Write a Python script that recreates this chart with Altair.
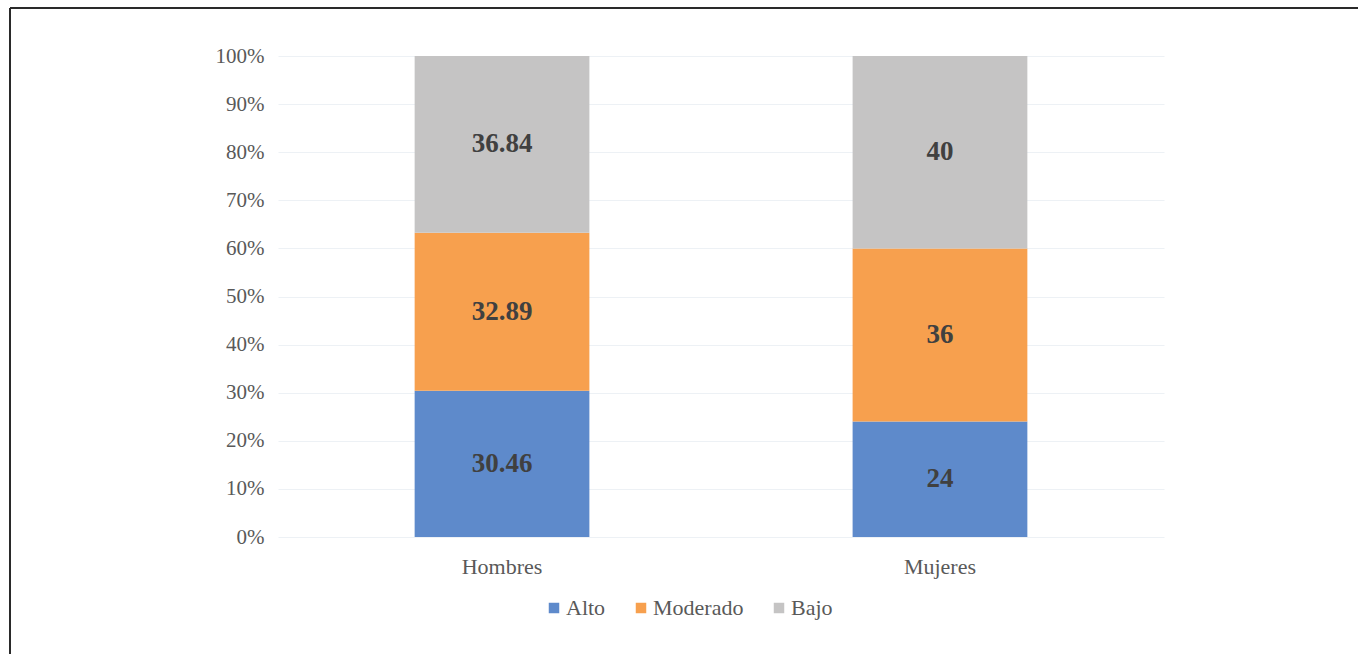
import altair as alt
import pandas as pd

grupos = ["Hombres", "Hombres", "Hombres", "Mujeres", "Mujeres", "Mujeres"]
niveles = ["Alto", "Moderado", "Bajo", "Alto", "Moderado", "Bajo"]
orden = [1, 2, 3, 1, 2, 3]
valores = [30.46, 32.89, 36.84, 24, 36, 40]
etiquetas = ["30.46", "32.89", "36.84", "24", "36", "40"]

cat_niveles = ["Alto", "Moderado", "Bajo"]
colores = ["#5E8ACB", "#F7A04E", "#C5C4C4"]

df = pd.DataFrame({"grupo": grupos, "nivel": niveles, "orden": orden,
                   "valor": valores, "etiqueta": etiquetas})

FONT = "Liberation Serif"
LEFT = 278
W, H = 886, 481

xenc = alt.X("grupo:N", title=None, sort=["Hombres", "Mujeres"],
             scale=alt.Scale(paddingInner=0.601, paddingOuter=0.312),
             axis=alt.Axis(labelAngle=0, domain=False, ticks=False, grid=False,
                           labelPadding=19, labelFontSize=22, labelFont=FONT,
                           labelColor="#595959"))

bars = alt.Chart(df).mark_bar().encode(
    x=xenc,
    y=alt.Y("valor:Q", stack="normalize", title=None,
            scale=alt.Scale(domain=[0, 1]),
            axis=alt.Axis(format=".0%", values=[i / 10 for i in range(11)],
                          domain=False, ticks=False, labelPadding=14,
                          labelFontSize=21, labelFont=FONT, labelColor="#595959",
                          gridColor="#EDF1F5", gridWidth=1)),
    color=alt.Color("nivel:N", sort=cat_niveles,
                    scale=alt.Scale(domain=cat_niveles, range=colores),
                    legend=alt.Legend(title=None, orient="none", direction="horizontal",
                                      legendX=543 - LEFT, legendY=541, symbolType="square",
                                      symbolSize=110, symbolStrokeWidth=0,
                                      labelFontSize=22, labelFont=FONT,
                                      labelColor="#595959", columnPadding=24,
                                      labelOffset=1)),
    order=alt.Order("orden:Q"),
)

texts = alt.Chart(df).transform_stack(
    stack="valor", groupby=["grupo"], as_=["v0", "v1"],
    sort=[alt.SortField("orden", order="ascending")], offset="normalize"
).transform_calculate(
    mid="(datum.v0 + datum.v1) / 2"
).mark_text(font=FONT, fontSize=27, fontWeight="bold", color="#404040").encode(
    x=alt.X("grupo:N", sort=["Hombres", "Mujeres"]),
    y=alt.Y("mid:Q"),
    text="etiqueta:N",
)

top_line = alt.Chart(df).mark_rule(color="#2A2A2A", strokeWidth=2).encode(
    x=alt.value(10 - LEFT), x2=alt.value(1358 - LEFT + 5), y=alt.value(-48))
left_line = alt.Chart(df).mark_rule(color="#2A2A2A", strokeWidth=2).encode(
    x=alt.value(10 - LEFT), y=alt.value(-48), y2=alt.value(600))

chart = alt.layer(bars, texts, top_line, left_line).properties(
    width=W, height=H,
    background="white",
    autosize=alt.AutoSizeParams(type="none"),
    padding={"left": LEFT, "top": 56, "right": 1358 - LEFT - W, "bottom": 654 - 56 - H},
).configure_view(strokeWidth=0, stroke="transparent")

chart.save("out.html", embed_options={"renderer": "svg", "actions": False})
